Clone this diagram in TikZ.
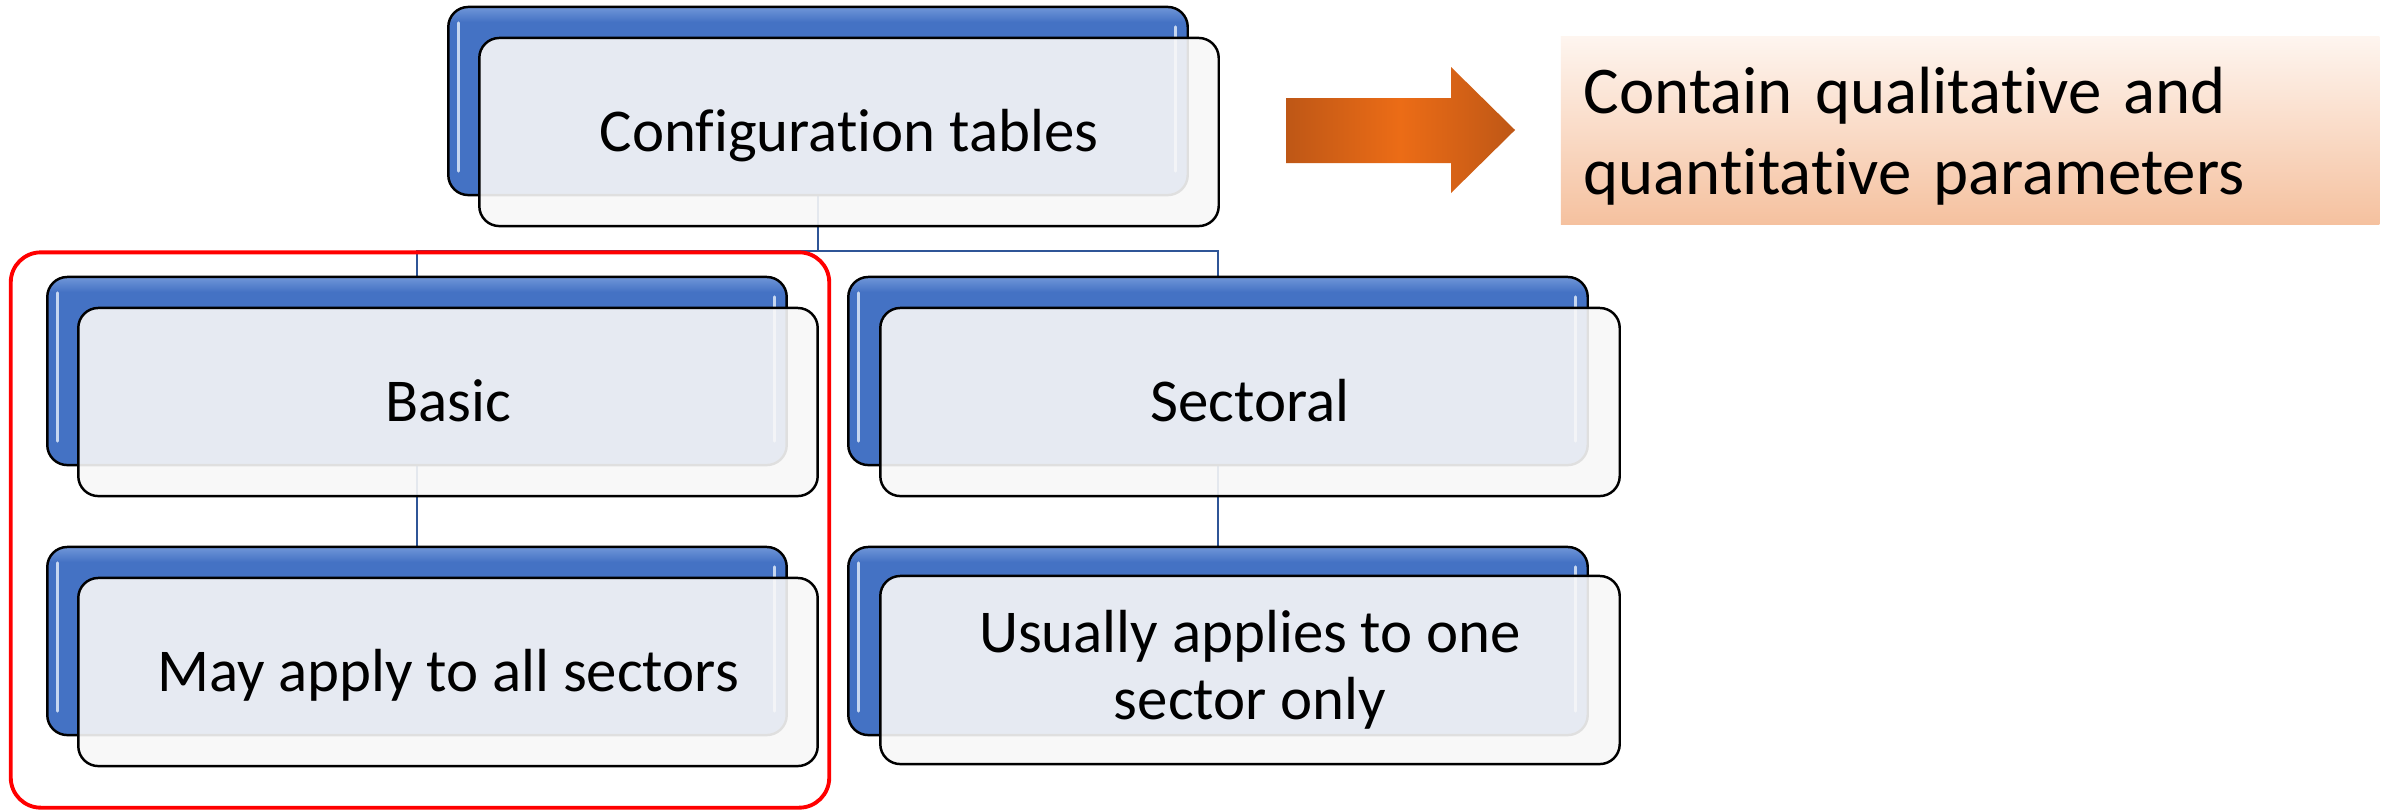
\documentclass[tikz,border=0pt]{standalone}
\usepackage{fontspec}
\setmainfont{Carlito}[Ligatures=NoCommon]
\usetikzlibrary{backgrounds}
\definecolor{boxblue}{HTML}{4472C4}
\definecolor{boxlight}{HTML}{7096D8}
\definecolor{connblue}{HTML}{2F5597}
\definecolor{frontfill}{HTML}{F8F8F8}
\definecolor{ardark}{HTML}{BE5716}
\definecolor{arbright}{HTML}{EC6C16}
\definecolor{peachtop}{HTML}{FEF5EF}
\definecolor{peachbot}{HTML}{F5C19F}
\definecolor{glosscol}{HTML}{D6E2F5}
\pgfdeclareverticalshading{backshade}{100bp}{color(0bp)=(boxblue); color(25bp)=(boxblue); color(71bp)=(boxblue); color(75bp)=(boxlight); color(100bp)=(boxlight)}
\newcommand\mkgloss[1]{%
  \draw[gloss] ([xshift=0.1cm,yshift=-0.16cm]#1.north west) -- ([xshift=0.1cm,yshift=0.24cm]#1.south west);
  \draw[gloss] ([xshift=-0.12cm,yshift=-0.2cm]#1.north east) -- ([xshift=-0.12cm,yshift=0.24cm]#1.south east);}
\begin{document}
\begin{tikzpicture}[x=0.01cm,y=-0.01cm,
  backbox/.style={draw=black, line width=0.7pt, shading=backshade, rounded corners=0.2cm,
    minimum width=7.39cm, minimum height=1.88cm, inner sep=0pt, outer sep=0pt},
  frontbox/.style={draw=black, line width=0.7pt, fill=frontfill, fill opacity=0.9, text opacity=1,
    rounded corners=0.2cm, minimum width=7.39cm, minimum height=1.88cm, inner sep=0pt, outer sep=0pt,
    font=\fontsize{17.3pt}{19pt}\selectfont, align=center, text height=11.1pt, text depth=0pt},
  conn/.style={draw=connblue, line width=0.6pt},
  gloss/.style={draw=glosscol, line width=0.9pt, line cap=round, opacity=0.9},
  redframe/.style={draw=red, line width=1.1pt, rounded corners=0.3cm,
    minimum width=8.18cm, minimum height=5.55cm, inner sep=0pt},
  notebox/.style={top color=peachtop, bottom color=peachbot, draw=none,
    minimum width=8.18cm, minimum height=1.87cm, inner sep=0pt},
  notetext/.style={text width=7.74cm, inner sep=0pt, align=left,
    font=\fontsize{19pt}{23.3pt}\selectfont},
  blockarrow/.style={left color=ardark, right color=ardark, middle color=arbright, draw=none}
]
\useasboundingbox (0,0) rectangle (2392,811);

% top
\node[backbox] (topb) at (818,101) {};
\mkgloss{topb}
\node[frontbox] (topf) at (849,132) {Configuration tables};

% basic
\node[backbox] (basb) at (417,371) {};
\mkgloss{basb}
\node[frontbox] (basf) at (448,402) {Basic};

\node[backbox] (allb) at (417,641) {};
\mkgloss{allb}
\node[frontbox] (allf) at (448,672) {May apply to all sectors};

% sectoral
\node[backbox] (secb) at (1218,371) {};
\mkgloss{secb}
\node[frontbox] (secf) at (1250,402) {Sectoral};

\node[backbox] (oneb) at (1218,641) {};
\mkgloss{oneb}
\node[frontbox, text height={}, text depth={}] (onef) at (1250,670) {Usually applies to one\\sector only};

% connectors
\begin{pgfonlayer}{background}
\path[fill=white] (0,0) rectangle (2392,811);
\coordinate (j) at (818,251);
\draw[conn] (topb.south) -- (j) -| (basb.north);
\draw[conn] (j) -| (secb.north);
\draw[conn] (basb.south) -- (allb.north);
\draw[conn] (secb.south) -- (oneb.north);
\end{pgfonlayer}

% block arrow
\path[blockarrow] (1286,98) -- (1451,98) -- (1451,67) -- (1515,130) -- (1451,193) -- (1451,163) -- (1286,163) -- cycle;

% note
\node[notebox] (notebg) at (1970,130.5) {};
\node[notetext, anchor=base west] (note) at (1583,113) {Contain qualitative and\\quantitative parameters};

% red frame
\node[redframe] (grp) at (420,530) {};
\end{tikzpicture}
\end{document}
